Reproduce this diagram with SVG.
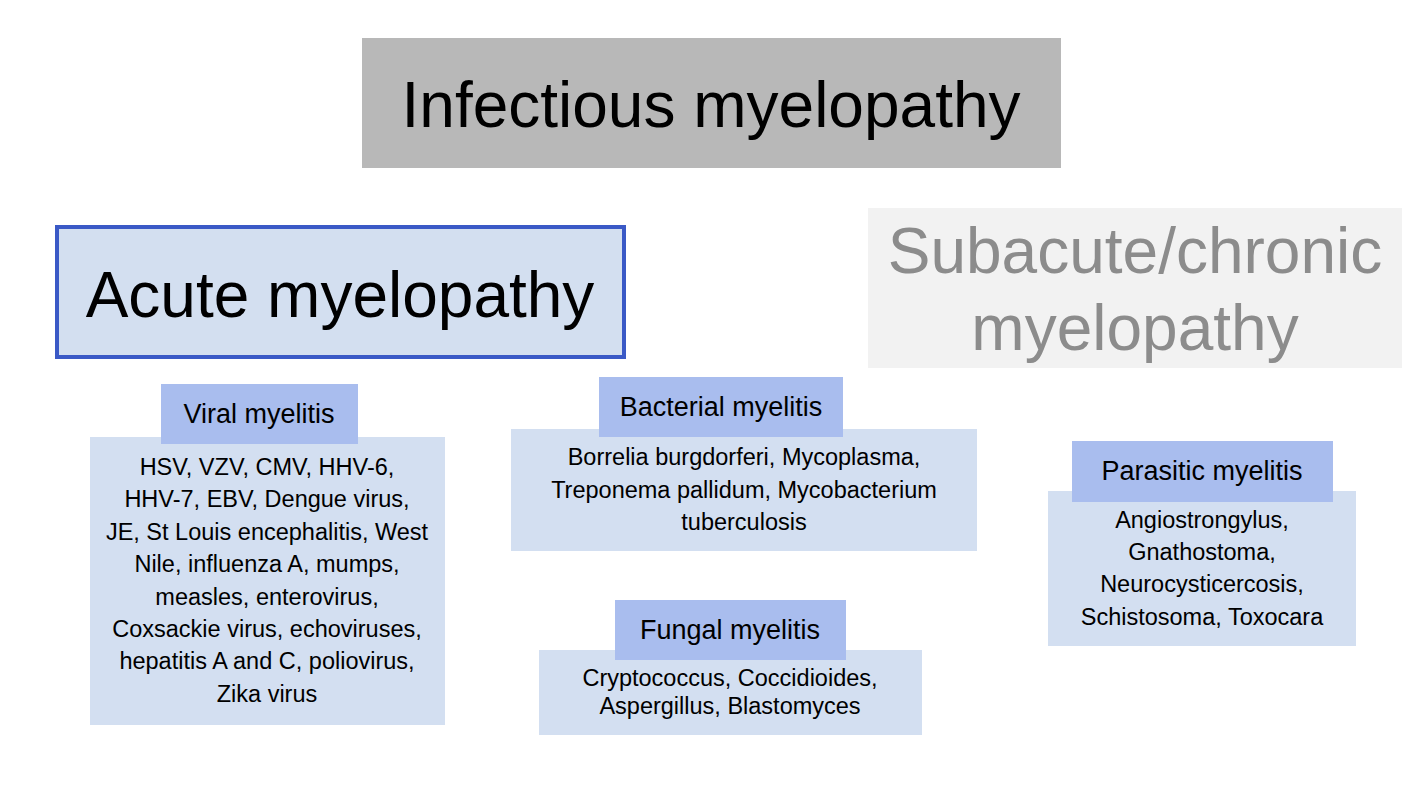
<svg xmlns="http://www.w3.org/2000/svg" width="1423" height="800" viewBox="0 0 1423 800">
<style>
text{font-family:"Liberation Sans",Arial,sans-serif;text-anchor:middle;fill:#000}
.big{font-size:64px}
.hd{font-size:27px}
.bd{font-size:23.5px}
.hdbox{fill:#a9bdee}
.bdbox{fill:#d3dff1}
</style>
<rect width="1423" height="800" fill="#ffffff"/>
<g id="title">
<rect x="362" y="38" width="699" height="130" fill="#b8b8b8"/>
<text class="big" x="711" y="127">Infectious myelopathy</text>
</g>
<g id="acute">
<rect x="57" y="227" width="567" height="130" fill="#d3dff0" stroke="#3a59c6" stroke-width="4"/>
<text class="big" x="340" y="317">Acute myelopathy</text>
</g>
<g id="subacute">
<rect x="868" y="208" width="534" height="160" fill="#f2f2f2"/>
<text class="big" x="1135" y="273" style="fill:#8c8c8c">Subacute/chronic</text>
<text class="big" x="1135" y="350" style="fill:#8c8c8c">myelopathy</text>
</g>
<g id="viral">
<rect class="bdbox" x="90" y="437" width="355" height="288"/>
<rect class="hdbox" x="161" y="384" width="197" height="60"/>
<text class="hd" x="259" y="423">Viral myelitis</text>
<text class="bd" x="267" y="475">HSV, VZV, CMV, HHV-6,</text>
<text class="bd" x="267" y="507.4">HHV-7, EBV, Dengue virus,</text>
<text class="bd" x="267" y="539.8">JE, St Louis encephalitis, West</text>
<text class="bd" x="267" y="572.2">Nile, influenza A, mumps,</text>
<text class="bd" x="267" y="604.6">measles, enterovirus,</text>
<text class="bd" x="267" y="637">Coxsackie virus, echoviruses,</text>
<text class="bd" x="267" y="669.4">hepatitis A and C, poliovirus,</text>
<text class="bd" x="267" y="701.8">Zika virus</text>
</g>
<g id="bacterial">
<rect class="bdbox" x="511" y="429" width="466" height="122"/>
<rect class="hdbox" x="599" y="377" width="244" height="60"/>
<text class="hd" x="721" y="416">Bacterial myelitis</text>
<text class="bd" x="744" y="465">Borrelia burgdorferi, Mycoplasma,</text>
<text class="bd" x="744" y="498">Treponema pallidum, Mycobacterium</text>
<text class="bd" x="744" y="530">tuberculosis</text>
</g>
<g id="fungal">
<rect class="bdbox" x="539" y="650" width="383" height="85"/>
<rect class="hdbox" x="615" y="600" width="231" height="60"/>
<text class="hd" x="730" y="639">Fungal myelitis</text>
<text class="bd" x="730" y="686">Cryptococcus, Coccidioides,</text>
<text class="bd" x="730" y="714">Aspergillus, Blastomyces</text>
</g>
<g id="parasitic">
<rect class="bdbox" x="1048" y="491" width="308" height="155"/>
<rect class="hdbox" x="1072" y="441" width="261" height="61"/>
<text class="hd" x="1202" y="480">Parasitic myelitis</text>
<text class="bd" x="1202" y="528">Angiostrongylus,</text>
<text class="bd" x="1202" y="560">Gnathostoma,</text>
<text class="bd" x="1202" y="592">Neurocysticercosis,</text>
<text class="bd" x="1202" y="625">Schistosoma, Toxocara</text>
</g>
<g id="connectors"></g>
</svg>
